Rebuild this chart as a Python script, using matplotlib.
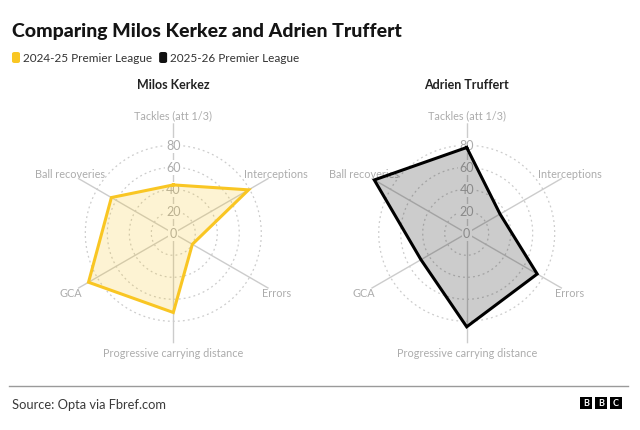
import numpy as np
import matplotlib.pyplot as plt
from matplotlib.patches import Rectangle, FancyBboxPatch

plt.rcParams['font.family'] = ['Lato', 'DejaVu Sans']

# data
categories = ["Tackles (att 1/3)", "Interceptions", "Errors",
              "Progressive carrying distance", "GCA", "Ball recoveries"]
kerkez = [44, 79, 20, 72, 89, 65]
truffert = [78, 35, 74, 85, 48, 97]
ring_ticks = [0, 20, 40, 60, 80]
players = ["Milos Kerkez", "Adrien Truffert"]
seasons = ["2024-25 Premier League", "2025-26 Premier League"]

yellow = '#f9c623'
label_grey = '#acacac'
grid_grey = '#cccccc'

W, H = 640, 431
fig = plt.figure(figsize=(6.4, 4.31), dpi=100)

def radar(cx, cy, values, color, title):
    R = 110  # px for r = 100
    ax = fig.add_axes([(cx - R) / W, (H - cy - R) / H, 2 * R / W, 2 * R / H],
                      projection='polar')
    ax.set_theta_zero_location('N')
    ax.set_theta_direction(-1)
    ax.set_ylim(0, 100)
    ax.grid(False)
    ax.spines['polar'].set_visible(False)
    ax.set_xticks([])
    ax.set_yticks([])
    ax.patch.set_alpha(0)

    n = len(categories)
    angles = np.arange(n) * 2 * np.pi / n
    circ = np.linspace(0, 2 * np.pi, 300)
    for r in ring_ticks[1:]:
        ax.plot(circ, np.full_like(circ, r), color=grid_grey, lw=0.9,
                dashes=(1.5, 2.5), zorder=1)
    for a in angles:
        ax.plot([a, a], [0, 100], color=grid_grey, lw=1, zorder=1)
    for r in ring_ticks:
        ax.text(0, r, str(r), ha='center', va='center', fontsize=9,
                color=label_grey, zorder=2,
                bbox=dict(boxstyle='square,pad=0.1', fc='white', ec='none'))
    for a, lab in zip(angles, categories):
        ax.text(a, 108, lab, ha='center', va='center', fontsize=7.8,
                color=label_grey, clip_on=False)

    t = np.append(angles, angles[0])
    v = np.append(values, values[0])
    ax.fill(t, v, color=color, alpha=0.2, lw=0, zorder=3)
    ax.plot(t, v, color=color, lw=2.2, zorder=4, solid_joinstyle='miter')
    fig.text(cx / W, 1 - 85 / H, title, ha='center', va='center',
             fontsize=9, fontweight='bold', color='#222222')

radar(173.3, 234.3, kerkez, yellow, players[0])
radar(466.7, 234.3, truffert, 'black', players[1])

# header
fig.text(12 / W, 1 - 31 / H, "Comparing Milos Kerkez and Adrien Truffert",
         ha='left', va='center', fontsize=14, fontweight='black', color='#141414')
lx = 12
for col, lab in zip([yellow, '#111111'], seasons):
    fig.patches.append(FancyBboxPatch((lx / W, 1 - 64 / H), 8 / W, 11 / H,
                                      boxstyle='round,pad=0,rounding_size=0.004',
                                      transform=fig.transFigure, fc=col, ec='none'))
    t = fig.text((lx + 11) / W, 1 - 58.5 / H, lab, ha='left', va='center',
                 fontsize=8.5, color='#333333')
    fig.canvas.draw()
    bb = t.get_window_extent()
    lx = bb.x1 + 7

# footer
fig.add_artist(plt.Line2D([9 / W, 628 / W], [1 - 386.7 / H] * 2,
                          transform=fig.transFigure, color='#9a9a9a', lw=1))
fig.text(12 / W, 1 - 405 / H, "Source: Opta via Fbref.com", ha='left',
         va='center', fontsize=9.3, color='#3a3a3a')
for i, letter in enumerate("BBC"):
    x0 = 580 + i * 15
    fig.patches.append(Rectangle((x0 / W, 1 - 409.5 / H), 12 / W, 12 / H,
                                 transform=fig.transFigure, fc='black', ec='none'))
    fig.text((x0 + 6) / W, 1 - 403.5 / H, letter, ha='center', va='center',
             fontsize=6.5, fontweight='bold', color='white')

plt.savefig("out.png", dpi=100)
